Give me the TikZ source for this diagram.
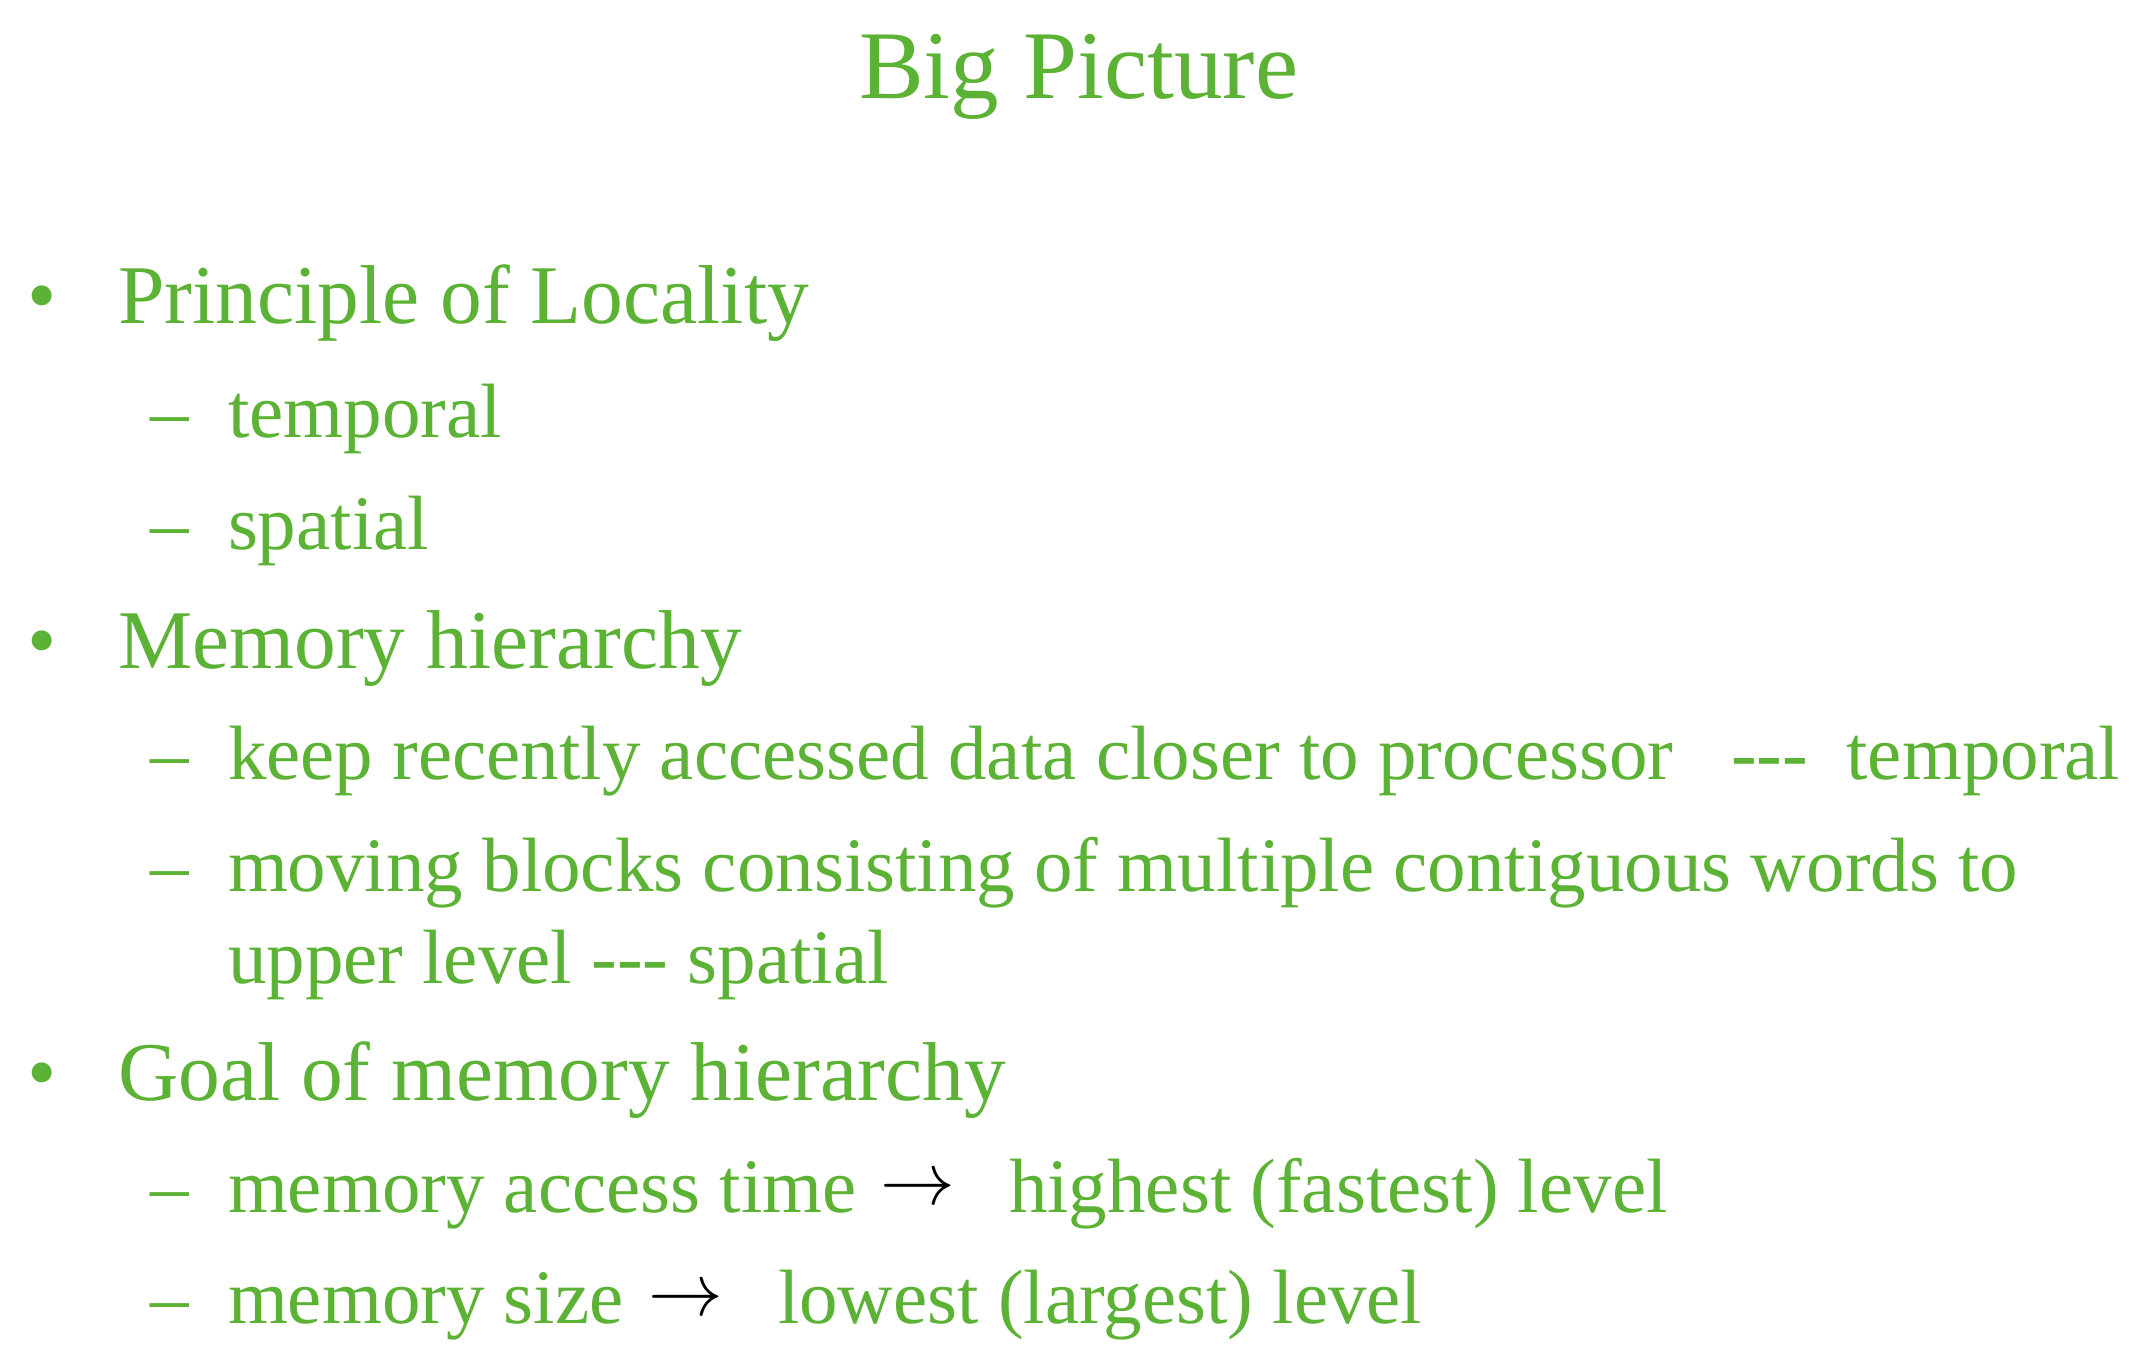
\documentclass[tikz,border=0pt]{standalone}
\usepackage{graphicx}
\usepackage{fontspec}
\setmainfont{Liberation Serif}
\definecolor{slidegreen}{RGB}{92,178,52}
\begin{document}
\begin{tikzpicture}[x=1bp,y=-1bp,
  every node/.style={inner sep=0pt, outer sep=0pt, anchor=base west, text=slidegreen},
  titletext/.style={font=\fontsize{97bp}{100bp}\selectfont},
  lvlone/.style={font=\fontsize{83.5bp}{90bp}\selectfont},
  lvltwo/.style={font=\fontsize{77bp}{84bp}\selectfont},
  arrowtxt/.style={text=black}]
\useasboundingbox (0,0) rectangle (2132,1346);
\fill[white] (0,0) rectangle (2132,1346);
% title
\node[titletext] (title) at (859,99) {Big Picture};
% first bullet
\node[lvlone] (b1) at (27,324) {•};
\node[lvlone] (i1) at (118,324) {Principle of Locality};
\node[lvltwo] (d11) at (150,437) {–};
\node[lvltwo] (i11) at (228,437) {temporal};
\node[lvltwo] (d12) at (150,549) {–};
\node[lvltwo] (i12) at (228,549) {spatial};
% second bullet
\node[lvlone] (b2) at (27,668) {•};
\node[lvlone] (i2) at (118,668) {Memory hierarchy};
\node[lvltwo] (d21) at (150,779) {–};
\node[lvltwo] (i21) at (228,779) {keep recently accessed data closer to processor~~~-{}-{}-~~temporal};
\node[lvltwo] (d22) at (150,891) {–};
\node[lvltwo] (i22) at (228,891) {moving blocks consisting of multiple contiguous words to};
\node[lvltwo] (i22b) at (228,983) {upper level -{}-{}- spatial};
% third bullet
\node[lvlone] (b3) at (27,1100) {•};
\node[lvlone] (i3) at (118,1100) {Goal of memory hierarchy};
\node[lvltwo] (d31) at (150,1212) {–};
\node[lvltwo] (i31) at (228,1212) {memory access time};
\node[arrowtxt] (a31) at (880,1204) {\scalebox{7.5}{$\rightarrow$}};
\node[lvltwo] (i31b) at (1009,1212) {highest (fastest) level};
\node[lvltwo] (d32) at (150,1323) {–};
\node[lvltwo] (i32) at (228,1323) {memory size};
\node[arrowtxt] (a32) at (648,1315) {\scalebox{7.5}{$\rightarrow$}};
\node[lvltwo] (i32b) at (778,1323) {lowest (largest) level};
\end{tikzpicture}
\end{document}
